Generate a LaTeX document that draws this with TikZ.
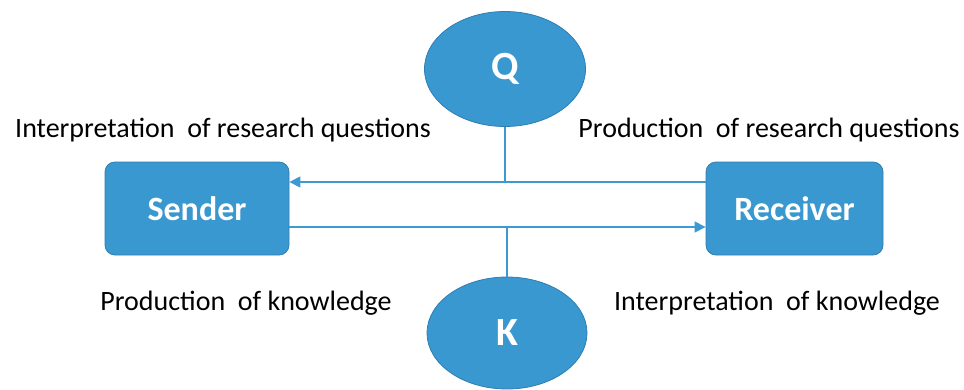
\documentclass[tikz,border=0pt]{standalone}
\usepackage{fontspec}
\setmainfont{Carlito}
\usetikzlibrary{shapes.geometric,arrows.meta}
\definecolor{boxblue}{HTML}{3A98D0}
\definecolor{edgeblue}{HTML}{2F7EB3}
\definecolor{lineblue}{HTML}{3C99D2}
\tikzset{
  party/.style={draw=edgeblue, line width=0.8pt, fill=boxblue, rounded corners=10pt, text=white, font=\fontsize{34}{38}\selectfont\bfseries, inner sep=0pt},
  topic/.style={ellipse, draw=edgeblue, line width=0.8pt, fill=boxblue, text=white, font=\fontsize{40}{44}\selectfont\bfseries, inner sep=0pt},
  conn/.style={draw=lineblue, line width=1.3pt},
  arr/.style={conn, -{Triangle[length=11pt,width=11pt]}},
  lbl/.style={font=\fontsize{28}{32}\selectfont, text=black, inner sep=0pt}
}
\begin{document}
\begin{tikzpicture}[x=1pt,y=-1pt]
\useasboundingbox (0,0) rectangle (964,389);
\node[topic, minimum width=161pt, minimum height=115pt] (Q) at (505,69) {Q};
\node[topic, minimum width=160pt, minimum height=112pt] (K) at (507,333) {K};
\node[party, minimum width=184pt, minimum height=93pt] (S) at (197,208.5) {Sender};
\node[party, minimum width=177pt, minimum height=93pt] (R) at (794.5,208.5) {Receiver};
\coordinate (qj) at (505,182);
\coordinate (kj) at (507,227);
\draw[conn] (Q.south) -- (qj);
\draw[conn] (K.north) -- (kj);
\draw[arr] (R.west |- qj) -- (S.east |- qj);
\draw[arr] (S.east |- kj) -- (R.west |- kj);
\node[lbl] (l1) at (223,130) {Interpretation\ \ of\ research\ questions};
\node[lbl] (l2) at (769,130) {Production\ \ of\ research\ questions};
\node[lbl] (l3) at (246,303) {Production\ \ of\ knowledge};
\node[lbl] (l4) at (777,303) {Interpretation\ \ of\ knowledge};
\end{tikzpicture}
\end{document}
